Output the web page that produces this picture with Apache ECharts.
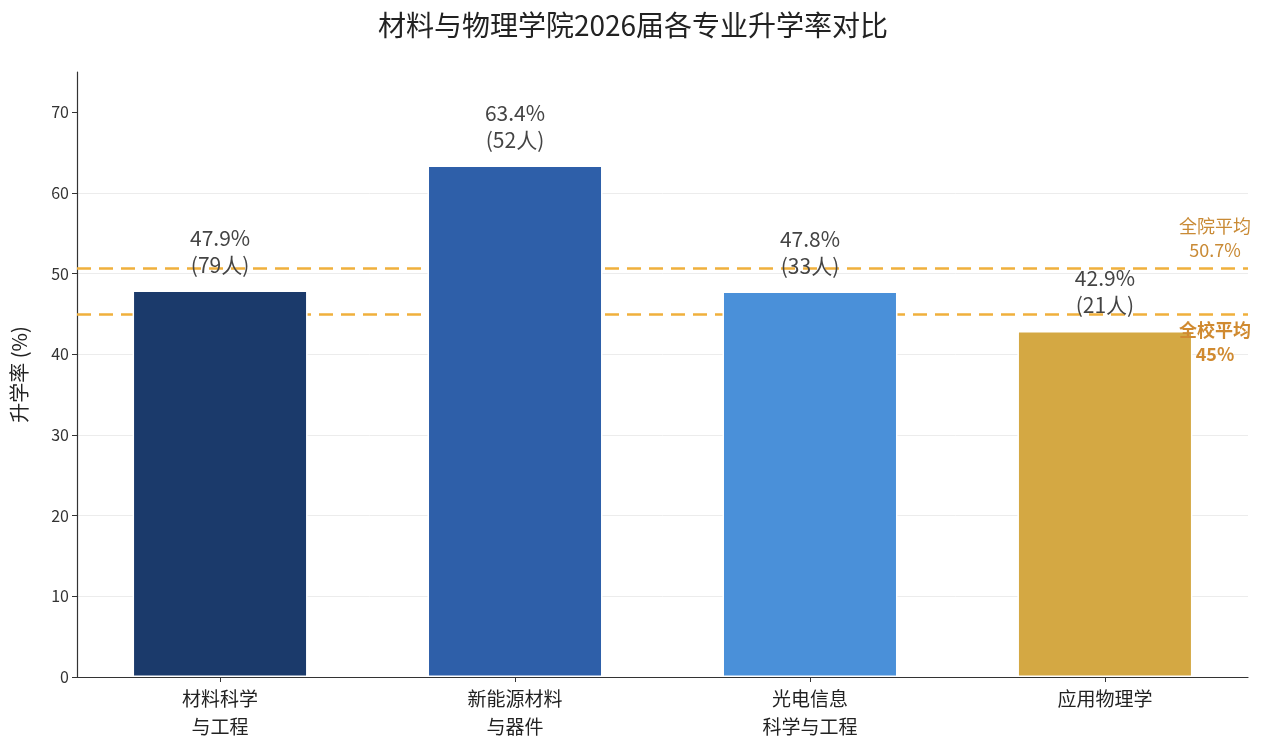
<!DOCTYPE html>
<html>
<head>
<meta charset="utf-8">
<script src="https://cdn.jsdelivr.net/npm/echarts@6/dist/echarts.min.js"></script>
<style>
  html, body { margin: 0; padding: 0; background: #fff; }
  #main { width: 1266px; height: 750px; }
</style>
</head>
<body>
<div id="main"></div>
<script>
// data
var majors = ['材料科学\n与工程', '新能源材料\n与器件', '光电信息\n科学与工程', '应用物理学'];
var rates = [47.9, 63.4, 47.8, 42.9];
var counts = [79, 52, 33, 21];
var barColors = ['#1b3a6b', '#2e5fa9', '#4a90d9', '#d4a843'];
var yTicks = [0, 10, 20, 30, 40, 50, 60, 70];
var xTicks = [0, 1, 2, 3];
var collegeAvg = 50.7;
var schoolAvg = 45;

var fontCN = '"Noto Sans CJK SC", "Noto Sans", sans-serif';

var avgLabelBase = {
  show: true,
  fontFamily: fontCN,
  fontSize: 18,
  lineHeight: 24,
  align: 'center'
};

var chart = echarts.init(document.getElementById('main'));

chart.setOption({
  backgroundColor: '#fff',
  animation: false,
  title: {
    text: '材料与物理学院2026届各专业升学率对比',
    left: 'center',
    top: 6,
    textStyle: { fontFamily: fontCN, fontSize: 28, fontWeight: 'normal', color: '#222' }
  },
  grid: { left: 77, right: 18, top: 72, bottom: 73 },
  xAxis: {
    type: 'value',
    min: -0.485,
    max: 3.485,
    axisLine: { show: true, onZero: false, lineStyle: { color: '#333', width: 1.2 } },
    axisTick: { show: true, length: 5, customValues: xTicks, lineStyle: { color: '#333' } },
    axisLabel: {
      fontFamily: fontCN, fontSize: 19, color: '#222', lineHeight: 28, margin: 8,
      customValues: xTicks,
      formatter: function (v) { return majors[Math.round(v)]; }
    },
    splitLine: { show: false }
  },
  yAxis: {
    type: 'value',
    min: 0,
    max: 75,
    interval: 10,
    name: '升学率 (%)',
    nameLocation: 'middle',
    nameGap: 48,
    nameTextStyle: { fontFamily: fontCN, fontSize: 20, color: '#222' },
    axisLine: { show: true, onZero: false, lineStyle: { color: '#333', width: 1.2 } },
    axisTick: { show: true, length: 5, customValues: yTicks, lineStyle: { color: '#333' } },
    axisLabel: { fontFamily: fontCN, fontSize: 16, color: '#333', margin: 8, customValues: yTicks },
    splitLine: { showMaxLine: false, lineStyle: { color: '#ececec', width: 1 } }
  },
  series: [
    {
      type: 'bar',
      barWidth: 175,
      z: 3,
      data: rates.map(function (v, i) {
        return { value: [i, v], itemStyle: { color: barColors[i] } };
      }),
      itemStyle: { borderColor: '#fff', borderWidth: 1.5 },
      label: {
        show: true,
        position: 'top',
        distance: 12,
        fontFamily: fontCN,
        fontSize: 21,
        lineHeight: 27,
        color: '#444',
        formatter: function (p) {
          return p.value[1].toFixed(1) + '%\n(' + counts[p.dataIndex] + '人)';
        }
      },
      // dashed average lines, behind the bars
      markLine: {
        silent: true,
        symbol: 'none',
        z: 1,
        label: { show: false },
        lineStyle: { color: '#f0b03c', type: [14, 8], width: 2.5 },
        data: [{ yAxis: collegeAvg }, { yAxis: schoolAvg }]
      }
    },
    {
      // average labels only, drawn above the bars
      type: 'scatter',
      data: [],
      z: 10,
      markLine: {
        silent: true,
        symbol: 'none',
        z: 10,
        lineStyle: { color: 'rgba(0,0,0,0)', width: 0 },
        data: [
          {
            yAxis: collegeAvg,
            label: Object.assign({}, avgLabelBase, {
              position: 'insideEndTop',
              distance: [33, 6],
              color: '#c98a35',
              formatter: '全院平均\n' + collegeAvg + '%'
            })
          },
          {
            yAxis: schoolAvg,
            label: Object.assign({}, avgLabelBase, {
              position: 'insideEndBottom',
              distance: [33, 4],
              fontWeight: 'bold',
              color: '#d08a30',
              formatter: '全校平均\n' + schoolAvg + '%'
            })
          }
        ]
      }
    }
  ]
});
</script>
</body>
</html>
